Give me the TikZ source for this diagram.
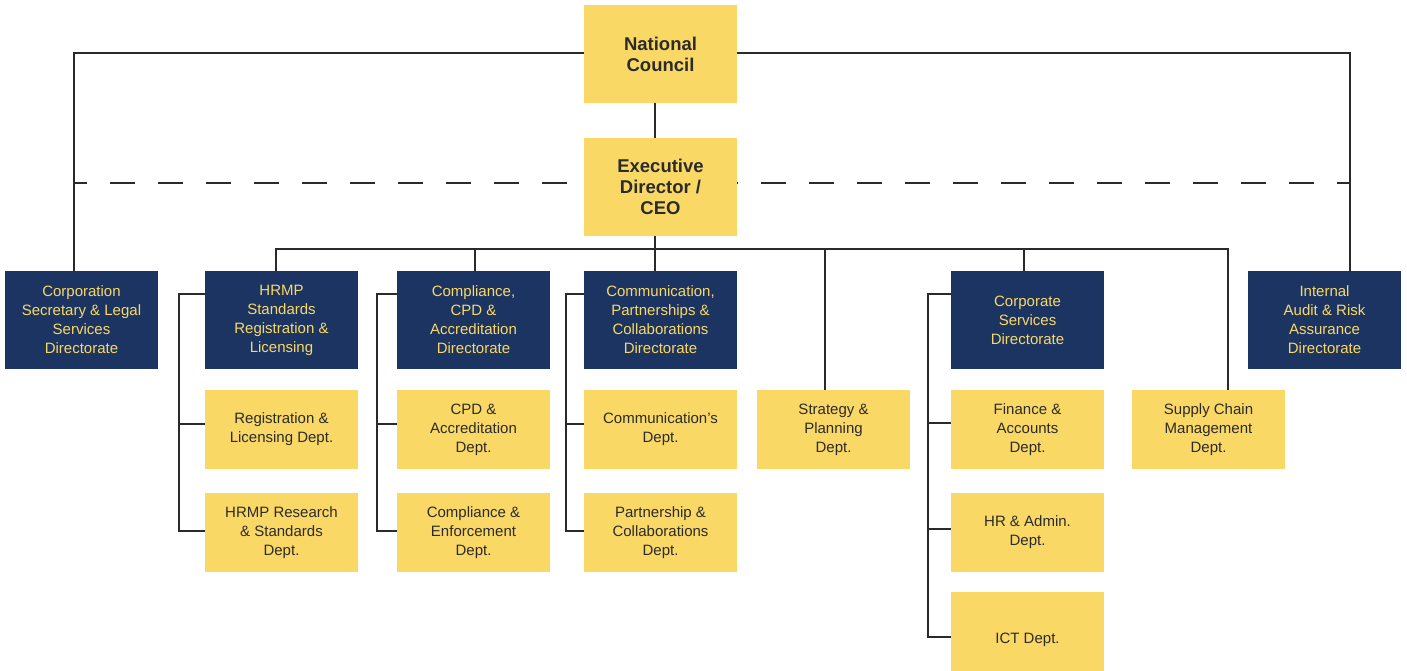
\documentclass[tikz,border=0pt]{standalone}
\usepackage{fontspec}
\setmainfont{Liberation Sans}
\definecolor{navy}{HTML}{1C3461}
\definecolor{gold}{HTML}{FAD865}
\definecolor{ink}{HTML}{2B2B2B}
\definecolor{wire}{HTML}{2A2A2A}
\begin{document}
\begin{tikzpicture}[x=1pt,y=-1pt,
  box/.style={rectangle, minimum width=153pt, minimum height=98pt, inner sep=0pt, align=center, font=\fontsize{15}{19}\selectfont},
  dir/.style={box, fill=navy, text=gold},
  dept/.style={box, fill=gold, text=ink, minimum height=79pt},
  topbox/.style={box, fill=gold, text=ink, font=\fontsize{18.5}{21}\selectfont\bfseries},
  wirestyle/.style={draw=wire, line width=2.2pt},
  dashwire/.style={wirestyle, dash pattern=on 25pt off 23pt}
]
\fill[white] (0,0) rectangle (1407,671);
\useasboundingbox (0,0) rectangle (1407,671);

% top
\node[topbox] (nc) at (660.5,54) {National\\Council};
\node[topbox] (ed) at (660.5,187) {Executive\\Director /\\CEO};

% directorates
\node[dir] (corp) at (81.5,320) {Corporation\\Secretary \& Legal\\Services\\Directorate};
\node[dir] (hrmp) at (281.5,320) {HRMP\\Standards\\Registration \&\\Licensing};
\node[dir] (compl) at (473.5,320) {Compliance,\\CPD \&\\Accreditation\\Directorate};
\node[dir] (comm) at (660.5,320) {Communication,\\Partnerships \&\\Collaborations\\Directorate};
\node[dir] (csd) at (1027.5,320) {Corporate\\Services\\Directorate};
\node[dir] (ia) at (1324.5,320) {Internal\\Audit \& Risk\\Assurance\\Directorate};

% departments
\node[dept] (reg) at (281.5,429.5) {Registration \&\\Licensing Dept.};
\node[dept] (res) at (281.5,532.5) {HRMP Research\\\& Standards\\Dept.};
\node[dept] (cpd) at (473.5,429.5) {CPD \&\\Accreditation\\Dept.};
\node[dept] (enf) at (473.5,532.5) {Compliance \&\\Enforcement\\Dept.};
\node[dept] (cmd) at (660.5,429.5) {Communication’s\\Dept.};
\node[dept] (par) at (660.5,532.5) {Partnership \&\\Collaborations\\Dept.};
\node[dept] (str) at (833.5,429.5) {Strategy \&\\Planning\\Dept.};
\node[dept] (fin) at (1027.5,429.5) {Finance \&\\Accounts\\Dept.};
\node[dept] (hr) at (1027.5,532.5) {HR \& Admin.\\Dept.};
\node[dept] (ict) at (1027.5,631.5) {};
\node[font=\fontsize{15}{19}\selectfont, text=ink, inner sep=0pt] (ictt) at ([yshift=-8pt]ict.center) {ICT Dept.};
\node[dept] (scm) at (1208.5,429.5) {Supply Chain\\Management\\Dept.};

% outer frame lines
\coordinate (tl) at (74,53);
\coordinate (tr) at (1350,53);
\draw[wirestyle] (nc.west |- tl) -- (tl) -- (tl |- corp.north);
\draw[wirestyle] (nc.east |- tr) -- (tr) -- (tr |- ia.north);

% dashed line
\coordinate (dl) at (74,183);
\coordinate (dr) at (1350,183);
\draw[dashwire, dash phase=12pt] (dl) -- (ed.west |- dl);
\draw[dashwire, dash phase=12pt] (dr) -- (ed.east |- dr);

% spine
\coordinate (sp) at (655,249);
\draw[wirestyle] (nc.south -| sp) -- (ed.north -| sp);
\draw[wirestyle] (ed.south -| sp) -- (comm.north -| sp);

% branch bus
\coordinate (bl) at (276,249);
\coordinate (br) at (1228,249);
\draw[wirestyle] (hrmp.north -| bl) -- (bl) -- (br) -- (scm.north -| br);
\coordinate (d1) at (475,249);
\coordinate (d2) at (825,249);
\coordinate (d3) at (1024,249);
\draw[wirestyle] (d1) -- (compl.north -| d1);
\draw[wirestyle] (d2) -- (str.north -| d2);
\draw[wirestyle] (d3) -- (csd.north -| d3);

% side buses
\coordinate (h1) at (179,294);
\coordinate (h2) at (179,424);
\coordinate (h3) at (179,531);
\draw[wirestyle] (hrmp.west |- h1) -- (h1) -- (h3) -- (res.west |- h3);
\draw[wirestyle] (h2) -- (reg.west |- h2);

\coordinate (c1) at (377,294);
\coordinate (c2) at (377,424);
\coordinate (c3) at (377,531);
\draw[wirestyle] (compl.west |- c1) -- (c1) -- (c3) -- (enf.west |- c3);
\draw[wirestyle] (c2) -- (cpd.west |- c2);

\coordinate (m1) at (566,294);
\coordinate (m2) at (566,424);
\coordinate (m3) at (566,531);
\draw[wirestyle] (comm.west |- m1) -- (m1) -- (m3) -- (par.west |- m3);
\draw[wirestyle] (m2) -- (cmd.west |- m2);

\coordinate (s1) at (928,294);
\coordinate (s2) at (928,423);
\coordinate (s3) at (928,529);
\coordinate (s4) at (928,637);
\draw[wirestyle] (csd.west |- s1) -- (s1) -- (s4) -- (ict.west |- s4);
\draw[wirestyle] (s2) -- (fin.west |- s2);
\draw[wirestyle] (s3) -- (hr.west |- s3);
\end{tikzpicture}
\end{document}
